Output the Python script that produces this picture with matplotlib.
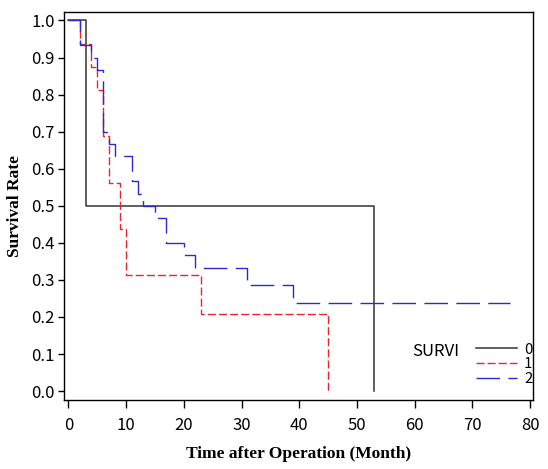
import matplotlib
matplotlib.use("Agg")
import matplotlib.pyplot as plt

# ---- data ----
t0 = [0, 3, 53]
s0 = [1.0, 0.5, 0.0]

t1 = [0, 2, 4, 5, 6, 7, 9, 10, 23, 45]
s1 = [1.0, 0.9375, 0.875, 0.8125, 0.6875, 0.5625, 0.4375, 0.3125, 0.2083, 0.0]

t2 = [0, 2, 4, 5, 6, 7, 8, 11, 12, 13, 15, 17, 20, 22, 31, 39, 76.5]
s2 = [1.0, 0.933, 0.9, 0.867, 0.7, 0.667, 0.633, 0.567, 0.533, 0.5,
      0.467, 0.4, 0.367, 0.333, 0.286, 0.238, 0.238]

group_labels = ["0", "1", "2"]
legend_title = "SURVI"
xticks = list(range(0, 81, 10))
yticks = [i / 10 for i in range(11)]
ytick_labels = [f"{v:.1f}" for v in yticks]

tick_font = ["Noto Sans CJK KR", "DejaVu Sans"]
label_font = ["Liberation Serif", "DejaVu Serif"]
fs = 12

fig = plt.figure(figsize=(5.48, 4.69), dpi=100)
ax = fig.add_axes([64.3 / 548, 1 - 400 / 469, (533 - 64.3) / 548, (400 - 12.3) / 469])

c0, c1, c2 = "#333333", "#e8262e", "#2a2ad0"
l0, = ax.step(t0, s0, where="post", color=c0, lw=1.1)
l1, = ax.step(t1, s1, where="post", color=c1, lw=1.0, dashes=(5.8, 2.2))
l2, = ax.step(t2, s2, where="post", color=c2, lw=1.0, dashes=(17.0, 6.0))

ax.set_xlim(-0.7, 80.5)
ax.set_ylim(-0.024, 1.022)
ax.set_xticks(xticks)
ax.set_xticklabels([str(v) for v in xticks], family=tick_font, fontsize=fs)
ax.set_yticks(yticks)
ax.set_yticklabels(ytick_labels, family=tick_font, fontsize=fs)
ax.tick_params(axis="x", length=6, width=1, pad=6)
ax.tick_params(axis="y", length=4, width=1, pad=3)
for sp in ax.spines.values():
    sp.set_linewidth(1.0)
    sp.set_color("black")

ax.set_xlabel("Time after Operation (Month)", family=label_font, fontsize=12.5,
              fontweight="bold", labelpad=9)
ax.set_ylabel("Survival Rate", family=label_font, fontsize=12.5,
              fontweight="bold", labelpad=6)

leg = ax.legend([l0, l1, l2], group_labels, loc="upper left",
                bbox_to_anchor=((476 - 64.3) / (533 - 64.3), 1 - (342.5 - 12.3) / (400 - 12.3)),
                frameon=False, handlelength=2.75, handletextpad=0.45,
                labelspacing=0.05, borderpad=0, borderaxespad=0,
                prop={"family": tick_font, "size": 10.8})
ax.text((412 - 64.3) / (533 - 64.3), 1 - (352 - 12.3) / (400 - 12.3), legend_title,
        transform=ax.transAxes, ha="left", va="center", family=tick_font, fontsize=fs)

fig.savefig("out.png", dpi=100)
